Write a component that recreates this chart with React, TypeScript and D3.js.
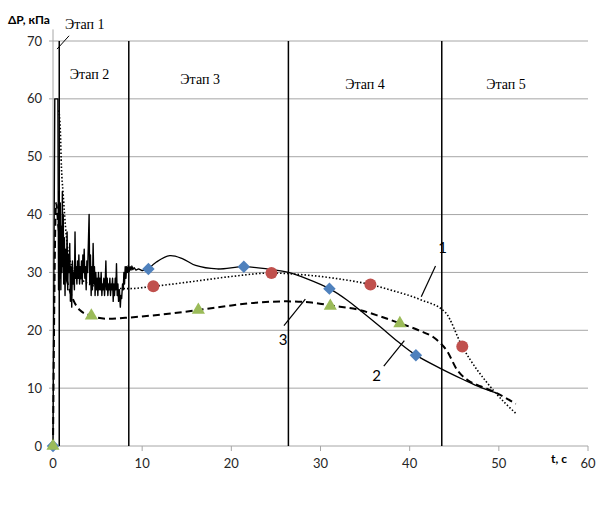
import * as d3 from 'd3'

type Pt = [number, number]

// Stage boundaries (t, s)
const STAGE_LINES = [0.7, 8.5, 26.4, 43.6]
const STAGE_LABELS = ['Этап 2', 'Этап 3', 'Этап 4', 'Этап 5']
const STAGE_LABEL_T = [4.1, 16.5, 35.0, 50.8]
const STAGE_LABEL_Y = [64.2, 63.4, 62.6, 62.6]

const X_TICKS = [0, 10, 20, 30, 40, 50, 60]
const Y_TICKS = [0, 10, 20, 30, 40, 50, 60, 70]

// Curve 2 (solid): pressure pulsations during stages 1-2
const SOLID_NOISE: Pt[] = [
  [0, 0], [0.2, 60], [0.55, 60], [0.62, 27], [0.7, 44], [0.76, 29], [0.82, 42], [0.88, 27],
  [0.95, 38], [1.0, 30], [1.05, 44], [1.1, 31], [1.15, 40], [1.2, 28], [1.28, 36], [1.35, 26],
  [1.42, 34], [1.5, 29], [1.58, 37], [1.65, 27], [1.72, 33], [1.8, 30], [1.88, 35], [1.95, 25],
  [2.02, 31], [2.1, 24], [2.18, 32], [2.25, 28], [2.32, 30], [2.4, 27], [2.47, 37], [2.53, 29],
  [2.6, 31], [2.68, 28], [2.75, 32], [2.83, 29], [2.9, 33], [2.98, 28], [3.05, 31], [3.12, 29],
  [3.2, 32], [3.28, 28], [3.35, 33], [3.42, 30], [3.5, 34], [3.57, 29], [3.65, 31], [3.72, 27],
  [3.8, 32], [3.88, 30], [3.95, 34], [4.05, 40], [4.12, 28], [4.2, 33], [4.28, 26], [4.35, 31],
  [4.42, 27], [4.5, 35], [4.58, 28], [4.65, 31], [4.72, 26], [4.8, 30], [4.88, 27], [4.95, 29],
  [5.03, 26], [5.1, 30], [5.18, 27], [5.25, 29], [5.33, 27], [5.4, 30], [5.48, 26], [5.55, 28],
  [5.63, 27], [5.7, 29], [5.78, 26], [5.85, 28], [5.93, 32], [6.0, 27], [6.08, 29], [6.15, 26],
  [6.23, 28], [6.3, 27], [6.38, 29], [6.45, 26], [6.53, 28], [6.6, 27], [6.68, 29], [6.75, 25],
  [6.83, 28], [6.9, 26], [6.98, 29], [7.05, 27], [7.12, 31.5], [7.2, 26], [7.28, 28], [7.35, 25],
  [7.45, 27], [7.55, 24], [7.62, 26], [7.7, 25.5], [7.8, 28], [7.88, 27], [7.95, 30], [8.02, 28],
  [8.1, 31], [8.18, 29], [8.25, 31], [8.35, 30], [8.45, 31.2], [8.55, 30.2], [8.65, 31], [8.75, 30.4],
  [8.85, 31.1], [8.95, 30.5], [9.1, 30.8], [9.3, 30.4], [9.6, 30.6], [10.0, 30.3], [10.7, 30.6],
]

// Curve 2 (solid): smooth part after stage 2
const SOLID_SMOOTH: Pt[] = [
  [10.7, 30.6], [11.6, 31.8], [13.1, 32.9], [14.5, 32.4], [16.0, 31.2], [18.4, 30.6], [21.4, 31.0],
  [24.0, 30.6], [26.4, 30.0], [28.5, 28.9], [31.0, 27.2], [33.0, 25.2], [34.4, 23.5], [36.7, 20.6],
  [38.7, 18.0], [40.7, 15.7], [43.6, 13.3], [46.0, 11.5], [48.0, 10.1], [49.7, 9.2],
]

// Curve 1 (dotted)
const DOTTED: Pt[] = [
  [0.65, 58], [0.82, 54.7], [0.95, 48], [1.12, 44], [1.5, 36.2], [1.9, 32], [2.8, 29.5], [4.0, 28],
  [6.0, 27.3], [8.5, 27.2], [11.25, 27.6], [16.0, 28.5], [20.0, 29.3], [24.5, 29.9], [28.0, 29.6],
  [32.0, 28.9], [35.6, 27.9], [38.0, 26.9], [41.2, 25.3], [44.0, 23.1], [45.9, 17.2], [49.4, 9.6],
  [52.0, 5.5],
]

// Curve 3 (dashed)
const DASHED: Pt[] = [
  [0, 0], [0.35, 42], [0.6, 38], [1.0, 33], [1.5, 29], [2.2, 25.5], [3.0, 23.5], [4.3, 22.5],
  [6.0, 22.0], [8.5, 22.2], [12.0, 22.7], [16.3, 23.5], [20.0, 24.3], [23.0, 24.8], [26.2, 25.0],
  [29.0, 24.8], [31.1, 24.3], [34.4, 23.5], [36.7, 22.4], [38.9, 21.2], [41.0, 20.0], [43.0, 18.4],
  [44.2, 16.4], [45.3, 13.2], [46.5, 11.4], [48.0, 10.3], [49.4, 9.4], [51.9, 7.3],
]

// Markers
const DIAMONDS: Pt[] = [[0, 0], [10.7, 30.6], [21.4, 31.0], [31.0, 27.2], [40.7, 15.7]]
const CIRCLES: Pt[] = [[11.25, 27.6], [24.5, 29.9], [35.6, 27.9], [45.9, 17.2]]
const TRIANGLES: Pt[] = [[0, 0], [4.3, 22.5], [16.3, 23.5], [31.1, 24.2], [38.9, 21.2]]

// Curve number callouts: label position, leader from, leader to
const CALLOUTS: { label: string; at: Pt; from: Pt; to: Pt }[] = [
  { label: '1', at: [43.7, 34.3], from: [42.9, 31.1], to: [41.3, 25.8] },
  { label: '2', at: [36.3, 12.1], from: [37.1, 13.8], to: [39.4, 18.2] },
  { label: '3', at: [25.8, 18.3], from: [25.9, 20.8], to: [28.3, 25.4] },
]

const W = 605
const H = 515
const margin = { left: 53, right: 17, top: 41, bottom: 69 }

export default function App() {
  const x = d3.scaleLinear().domain([0, 60]).range([margin.left, W - margin.right])
  const y = d3.scaleLinear().domain([0, 70]).range([H - margin.bottom, margin.top])

  const linear = d3.line<Pt>().x(d => x(d[0])).y(d => y(d[1]))
  const smooth = d3.line<Pt>().x(d => x(d[0])).y(d => y(d[1])).curve(d3.curveMonotoneX)
  const catmull = d3.line<Pt>().x(d => x(d[0])).y(d => y(d[1])).curve(d3.curveCatmullRom.alpha(0.5))

  const gridColor = '#a6a6a6'
  const tickFont = 'Lato, "Open Sans", sans-serif'
  const serifStyle = { fontFamily: '"Liberation Serif", "DejaVu Serif", serif' }
  const y0 = y(0)
  const diamond = d3.symbol(d3.symbolSquare, 78)() ?? ''
  const triangle = d3.symbol(d3.symbolTriangle, 75)() ?? ''

  return (
    <div>
      <style>{'body{margin:0}'}</style>
      <svg width={W} height={H} style={{ display: 'block', background: '#fff' }}>
        {/* gridlines */}
        {Y_TICKS.map(t => (
          <line key={t} x1={x(0) - 4} x2={x(60)} y1={y(t)} y2={y(t)} stroke={gridColor} strokeWidth={1} />
        ))}
        {/* axes */}
        <line x1={x(0)} x2={x(0)} y1={y0} y2={y(72)} stroke={gridColor} strokeWidth={1} />
        {X_TICKS.map(t => (
          <line key={t} x1={x(t)} x2={x(t)} y1={y0} y2={y0 + 5} stroke={gridColor} strokeWidth={1} />
        ))}
        {Y_TICKS.map(t => (
          <text key={t} x={x(0) - 11} y={y(t)} dy="0.35em" textAnchor="end" fontFamily={tickFont} fontSize={13} fill="#262626">{t}</text>
        ))}
        {X_TICKS.map(t => (
          <text key={t} x={x(t)} y={y0 + 17} dy="0.35em" textAnchor="middle" fontFamily={tickFont} fontSize={13} fill="#262626">{t}</text>
        ))}
        <text x={8} y={24} fontFamily={tickFont} fontSize={12} fontWeight="bold" fill="#000">ΔP, кПа</text>
        <text x={551} y={463} fontFamily={tickFont} fontSize={12} fontWeight="bold" fill="#000">t, c</text>

        {/* stage boundaries */}
        {STAGE_LINES.map(t => (
          <line key={t} x1={x(t)} x2={x(t)} y1={y(0)} y2={y(70)} stroke="#000" strokeWidth={1.5} />
        ))}
        {STAGE_LABELS.map((s, i) => (
          <text key={s} x={x(STAGE_LABEL_T[i])} y={y(STAGE_LABEL_Y[i])} dy="0.35em" textAnchor="middle"
            style={serifStyle} fontSize={14} fill="#000">{s}</text>
        ))}
        <text x={x(1.35)} y={y(72.9)} dy="0.35em" style={serifStyle} fontSize={14} fill="#000">Этап 1</text>
        <path d={linear([[0.45, 68.6], [1.8, 70.9]]) ?? ''} stroke="#000" strokeWidth={1} fill="none" />

        {/* curves */}
        <path d={smooth(DASHED) ?? ''} fill="none" stroke="#000" strokeWidth={2} strokeDasharray="7 4" />
        <path d={smooth(DOTTED) ?? ''} fill="none" stroke="#000" strokeWidth={1.6} strokeDasharray="1.5 2" />
        <path d={linear(SOLID_NOISE) ?? ''} fill="none" stroke="#000" strokeWidth={1.4} strokeLinejoin="round" />
        <path d={catmull(SOLID_SMOOTH) ?? ''} fill="none" stroke="#000" strokeWidth={1.3} />

        {/* markers */}
        {CIRCLES.map(([t, v], i) => (
          <circle key={i} cx={x(t)} cy={y(v)} r={6} fill="#C0504D" />
        ))}
        {DIAMONDS.map(([t, v], i) => (
          <path key={i} d={diamond} transform={`translate(${x(t)},${y(v)}) rotate(45)`} fill="#4F81BD" />
        ))}
        {TRIANGLES.map(([t, v], i) => (
          <path key={i} d={triangle} transform={`translate(${x(t)},${y(v)})`} fill="#9BBB59" />
        ))}

        {/* callouts */}
        {CALLOUTS.map(c => (
          <g key={c.label}>
            <path d={linear([c.from, c.to]) ?? ''} stroke="#000" strokeWidth={1.2} fill="none" />
            <text x={x(c.at[0])} y={y(c.at[1])} dy="0.35em" textAnchor="middle" fontFamily={tickFont} fontSize={15} fill="#000">{c.label}</text>
          </g>
        ))}
      </svg>
    </div>
  )
}
